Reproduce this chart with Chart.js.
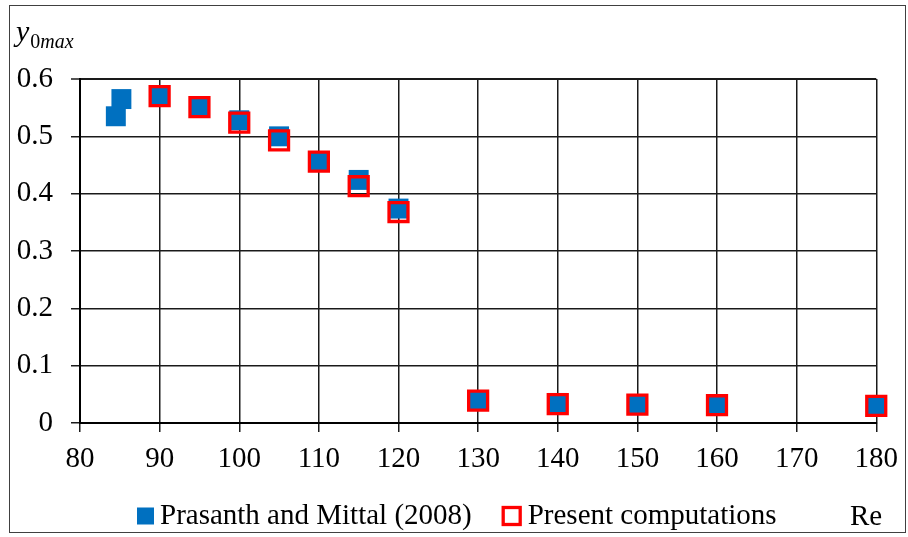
<!DOCTYPE html>
<html>
<head>
<meta charset="utf-8">
<script src="https://cdn.jsdelivr.net/npm/chart.js@4.4.1/dist/chart.umd.min.js"></script>
<style>
  html, body { margin: 0; padding: 0; background: #fff; }
  #wrap { width: 908px; height: 537px; }
</style>
</head>
<body>
<div id="wrap"><canvas id="c" width="908" height="537"></canvas></div>
<script>
// Maximum transverse displacement y0max versus Reynolds number
const prasanthRe  = [84.5, 85.2, 90, 95, 100, 105, 110, 115, 120, 130, 140, 150, 160, 180];
const prasanthY   = [0.535, 0.565, 0.570, 0.551, 0.528, 0.500, 0.456, 0.424, 0.374, 0.040, 0.035, 0.033, 0.031, 0.030];
const presentRe   = [90, 95, 100, 105, 110, 115, 120, 130, 140, 150, 160, 180];
const presentY    = [0.570, 0.551, 0.524, 0.493, 0.456, 0.413, 0.368, 0.039, 0.033, 0.032, 0.031, 0.030];
const seriesNames = ['Prasanth and Mittal (2008)', 'Present computations'];
const xTicks = [80, 90, 100, 110, 120, 130, 140, 150, 160, 170, 180];
const yTicks = [0, 0.1, 0.2, 0.3, 0.4, 0.5, 0.6];

const SERIF = "'Liberation Serif', 'Times New Roman', serif";
const PAD_BOTTOM = 0;
const PLOT_BOTTOM = 423;

const toPoints = (xs, ys) => xs.map((x, i) => ({ x: x, y: ys[i] }));

// White background and thin outer frame around the figure
const framePlugin = {
  id: 'frame',
  beforeDraw(chart) {
    const ctx = chart.ctx;
    ctx.save();
    ctx.fillStyle = '#fff';
    ctx.fillRect(0, 0, chart.width, chart.height);
    ctx.strokeStyle = '#404040';
    ctx.lineWidth = 1;
    ctx.strokeRect(9.5, 5.5, 896, 527);
    ctx.restore();
  }
};

// Axis names and a single-row legend under the x axis
const annotatePlugin = {
  id: 'annotate',
  afterDraw(chart) {
    const ctx = chart.ctx;
    ctx.save();
    ctx.fillStyle = '#000';
    ctx.textBaseline = 'alphabetic';
    ctx.textAlign = 'left';

    // y0max (italic y, upright 0, italic "max" as subscript)
    ctx.font = 'italic 30px ' + SERIF;
    ctx.fillText('y', 16, 41);
    let x = 16 + ctx.measureText('y').width + 1;
    ctx.font = '20px ' + SERIF;
    ctx.fillText('0', x, 48);
    x += ctx.measureText('0').width;
    ctx.font = 'italic 20px ' + SERIF;
    ctx.fillText('max', x, 48);

    // legend
    const ds = chart.data.datasets;
    ctx.font = '29px ' + SERIF;
    const box = 17, boxGap = 6, itemGap = 30;
    const widths = ds.map(d => box + boxGap + ctx.measureText(d.label).width);
    const total = widths.reduce((a, b) => a + b, 0) + itemGap * (ds.length - 1);
    let lx = Math.round(455 - total / 2);
    const baseY = 524;
    const boxTop = baseY - box + 0.5;
    ds.forEach((d, i) => {
      if (d.pointBorderWidth > 0) {
        ctx.lineWidth = d.pointBorderWidth;
        ctx.strokeStyle = d.borderColor;
        ctx.strokeRect(lx + 1.5, boxTop, box, box);
      } else {
        ctx.fillStyle = d.backgroundColor;
        ctx.fillRect(lx, boxTop, box, box);
      }
      ctx.fillStyle = '#000';
      ctx.fillText(d.label, lx + box + boxGap + (d.pointBorderWidth > 0 ? 3 : 0), baseY);
      lx += widths[i] + itemGap;
    });

    // x axis name
    ctx.font = '29px ' + SERIF;
    ctx.fillText('Re', 850, 525);
    ctx.restore();
  }
};

new Chart(document.getElementById('c'), {
  type: 'scatter',
  data: {
    datasets: [
      {
        label: seriesNames[0],
        data: toPoints(prasanthRe, prasanthY),
        pointStyle: 'rect',
        pointRadius: 14.1,
        pointHoverRadius: 14.1,
        backgroundColor: '#0070C0',
        borderColor: '#0070C0',
        pointBorderWidth: 0,
        clip: false,
        order: 1
      },
      {
        label: seriesNames[1],
        data: toPoints(presentRe, presentY),
        pointStyle: 'rect',
        pointRadius: 13.4,
        pointHoverRadius: 13.4,
        backgroundColor: 'rgba(0,0,0,0)',
        borderColor: '#FF0000',
        pointBorderWidth: 3.3,
        clip: false,
        order: 0
      }
    ]
  },
  options: {
    responsive: false,
    animation: false,
    events: [],
    layout: { padding: { top: 79, right: 30, left: 10, bottom: PAD_BOTTOM } },
    plugins: {
      title: { display: false },
      tooltip: { enabled: false },
      legend: { display: false }
    },
    scales: {
      x: {
        type: 'linear',
        min: 80,
        max: 180,
        afterBuildTicks(s) { s.ticks = xTicks.map(v => ({ value: v })); },
        afterFit(s) { s.height = 537 - PLOT_BOTTOM - PAD_BOTTOM; },
        ticks: {
          color: '#000',
          font: { family: SERIF, size: 29 },
          padding: 10,
          maxRotation: 0,
          callback: v => String(v)
        },
        grid: {
          color: '#1a1a1a',
          lineWidth: 1.5,
          tickLength: 9,
          tickColor: '#1a1a1a',
          tickWidth: 1.5
        },
        border: { display: true, color: '#000', width: 2 }
      },
      y: {
        type: 'linear',
        min: 0,
        max: 0.6,
        afterBuildTicks(s) { s.ticks = yTicks.map(v => ({ value: v })); },
        afterFit(s) { s.width = 70; },
        ticks: {
          color: '#000',
          font: { family: SERIF, size: 29 },
          padding: 18,
          callback: v => (v === 0 ? '0' : (+v).toFixed(1))
        },
        grid: {
          color: '#1a1a1a',
          lineWidth: ctx => (ctx.tick && ctx.tick.value === 0.6 ? 2 : 1.5),
          tickLength: 9,
          tickColor: '#1a1a1a',
          tickWidth: 1.5
        },
        border: { display: true, color: '#000', width: 2 }
      }
    }
  },
  plugins: [framePlugin, annotatePlugin]
});
</script>
</body>
</html>
